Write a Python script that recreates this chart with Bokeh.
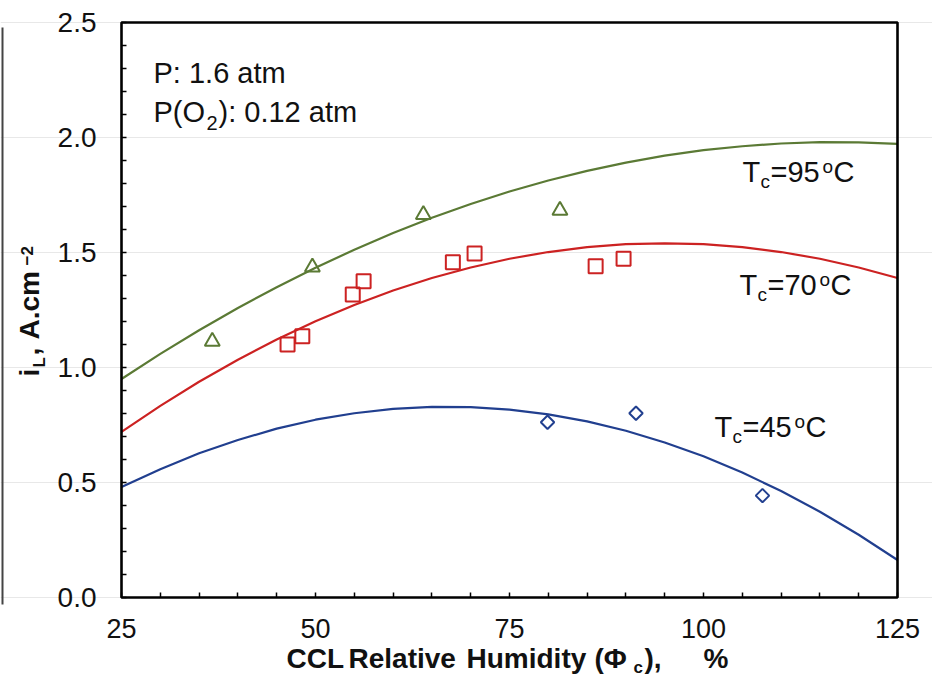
from bokeh.plotting import figure
from bokeh.models import Range1d, FixedTicker, Label, BoxAnnotation, CustomJSTickFormatter
from bokeh.embed import file_html
from bokeh.resources import INLINE
import math

# ---------------- data ----------------
t95_x = [36.7, 49.6, 63.9, 81.5]
t95_y = [1.113, 1.436, 1.665, 1.683]

t70_x = [46.4, 48.3, 54.8, 56.2, 67.7, 70.5, 86.1, 89.7]
t70_y = [1.100, 1.136, 1.317, 1.375, 1.458, 1.496, 1.440, 1.473]

t45_x = [79.9, 91.3, 107.6]
t45_y = [0.762, 0.801, 0.443]

# trend curves, every 5 % RH
fit_x = [25, 30, 35, 40, 45, 50, 55, 60, 65, 70, 75, 80, 85, 90, 95, 100, 105, 110, 115, 120, 125]
fit95 = [0.950, 1.059, 1.162, 1.259, 1.349, 1.434, 1.512, 1.585, 1.651, 1.711, 1.765,
         1.813, 1.855, 1.891, 1.921, 1.945, 1.962, 1.974, 1.980, 1.979, 1.972]
fit70 = [0.720, 0.833, 0.938, 1.034, 1.122, 1.201, 1.272, 1.335, 1.389, 1.435, 1.473,
         1.502, 1.523, 1.536, 1.540, 1.536, 1.523, 1.502, 1.473, 1.435, 1.389]
fit45 = [0.480, 0.558, 0.627, 0.685, 0.734, 0.773, 0.801, 0.820, 0.829, 0.828, 0.817,
         0.796, 0.766, 0.725, 0.674, 0.614, 0.543, 0.463, 0.373, 0.273, 0.163]

x_lim = [25, 125]
y_lim = [0.0, 2.5]
x_ticks = [25, 50, 75, 100, 125]
x_minor = [30, 35, 40, 45, 55, 60, 65, 70, 80, 85, 90, 95, 105, 110, 115, 120]
y_ticks = [0.0, 0.5, 1.0, 1.5, 2.0, 2.5]
y_minor = [0.1, 0.2, 0.3, 0.4, 0.6, 0.7, 0.8, 0.9, 1.1, 1.2, 1.3, 1.4,
           1.6, 1.7, 1.8, 1.9, 2.1, 2.2, 2.3, 2.4]

GREEN = "#5b7a35"
RED = "#cc2222"
BLUE = "#213f8f"
FONT = "Liberation Sans"

# ---------------- layout ----------------
W, H = 932, 691
FL, FR, FT, FB = 121, 897, 22, 597   # plot box edges in canvas pixels
sx_per = (FR - FL) / (x_lim[1] - x_lim[0])
sy_per = (FB - FT) / (y_lim[1] - y_lim[0])
# the frame fills the whole canvas; the plot box is drawn with floating axes
xr = Range1d(x_lim[0] - FL / sx_per, x_lim[0] + (W - FL) / sx_per)
yr = Range1d(y_lim[0] - (H - FB) / sy_per, y_lim[0] + FB / sy_per)

p = figure(width=W, height=H, output_backend="svg", toolbar_location=None,
           x_range=xr, y_range=yr, title=None, min_border=0)
p.background_fill_color = "white"
p.border_fill_color = "white"
p.outline_line_color = None
p.xgrid.visible = False
p.ygrid.grid_line_color = "#e8e8e8"
p.ygrid.grid_line_width = 1
p.ygrid.bounds = (x_lim[0], x_lim[1])

p.xaxis.fixed_location = y_lim[0]
p.yaxis.fixed_location = x_lim[0]
p.xaxis.bounds = (x_lim[0], x_lim[1])
p.yaxis.bounds = (y_lim[0], y_lim[1])

for ax in (p.xaxis[0], p.yaxis[0]):
    ax.axis_line_color = None
    ax.major_tick_in = 5
    ax.major_tick_out = 0
    ax.minor_tick_in = 5
    ax.minor_tick_out = 0
    ax.major_tick_line_color = "black"
    ax.minor_tick_line_color = "black"
    ax.major_tick_line_width = 1.5
    ax.minor_tick_line_width = 1.5
    ax.major_label_text_font = FONT
    ax.major_label_text_color = "#111111"

p.xaxis[0].ticker = FixedTicker(ticks=x_ticks, minor_ticks=x_minor)
p.yaxis[0].ticker = FixedTicker(ticks=y_ticks, minor_ticks=y_minor)
p.xaxis[0].major_label_text_font_size = "27px"
p.yaxis[0].major_label_text_font_size = "28px"
p.xaxis[0].major_label_standoff = 21
p.yaxis[0].major_label_standoff = 25
p.yaxis[0].formatter = CustomJSTickFormatter(code="return tick.toFixed(1)")

# plot box outline
p.add_layout(BoxAnnotation(left=x_lim[0], right=x_lim[1], bottom=y_lim[0], top=y_lim[1],
                           fill_alpha=0, line_color="black", line_alpha=1,
                           line_width=2.6))

# ---------------- curves and markers ----------------
p.line(fit_x, fit95, line_color=GREEN, line_width=2.2)
p.line(fit_x, fit70, line_color=RED, line_width=2.2)
p.line(fit_x, fit45, line_color=BLUE, line_width=2.2)

p.scatter(t95_x, t95_y, marker="triangle", size=15, fill_color=None,
          line_color=GREEN, line_width=2)
p.scatter(t70_x, t70_y, marker="square", size=14, fill_color=None,
          line_color=RED, line_width=2)
p.scatter(t45_x, t45_y, marker="square", size=9.5, angle=math.pi / 4,
          fill_color=None, line_color=BLUE, line_width=2)


# ---------------- texts (placed by canvas pixel of their baseline start) ----------------
def lab(text, px, py, size, bold=False, angle=0.0, color="#111111"):
    corr = 0.357 * size
    if angle == 0:
        x, y = px, H - (py - corr)
    else:
        x, y = px - corr, H - py
    p.add_layout(Label(x=x, y=y, x_units="screen", y_units="screen",
                       text=text, text_font=FONT, text_font_size=f"{size}px",
                       text_font_style="bold" if bold else "normal",
                       text_color=color, text_align="left",
                       text_baseline="alphabetic", angle=angle))


# condition text
lab("P: 1.6 atm", 153, 83, 29)
lab("P(O", 153, 122, 29)
lab("2", 206, 130, 20)
lab("): 0.12 atm", 218, 122, 29)

# curve labels  T_c=NN^oC
for num, tx, ty in (("95", 742, 182), ("70", 739, 295), ("45", 714, 437)):
    lab("T", tx, ty, 29)
    lab("c", tx + 18, ty + 6, 19)
    lab("=" + num, tx + 28, ty, 29)
    lab("o", tx + 80, ty - 9, 19)
    lab("C", tx + 91, ty, 29)

# x axis title: CCL Relative Humidity (Φ_c), %
XB = 668
lab("CCL", 286, XB, 28, bold=True)
lab("Relative", 348, XB, 28, bold=True)
lab("Humidity", 466, XB, 28, bold=True)
lab("(Φ", 594, XB, 28, bold=True)
lab("c", 633, XB + 5, 17, bold=True)
lab("),", 644, XB, 28, bold=True)
lab("%", 703, XB, 28, bold=True)

# y axis title: i_L, A.cm^-2 (rotated)
A = math.pi / 2
lab("i", 39, 376, 28, bold=True, angle=A)
lab("L", 45, 367, 17, bold=True, angle=A)
lab(",", 39, 355, 28, bold=True, angle=A)
lab("A.cm", 39, 339, 28, bold=True, angle=A)
lab("\u22122", 33, 265, 17, bold=True, angle=A)

# thin dark edge line at the far left of the picture
p.add_layout(BoxAnnotation(left=1, right=3, bottom=H - 604, top=H - 27,
                           left_units="screen", right_units="screen",
                           top_units="screen", bottom_units="screen",
                           fill_color="#444444", fill_alpha=1, line_color=None))

open("out.html", "w").write(file_html(p, INLINE))
